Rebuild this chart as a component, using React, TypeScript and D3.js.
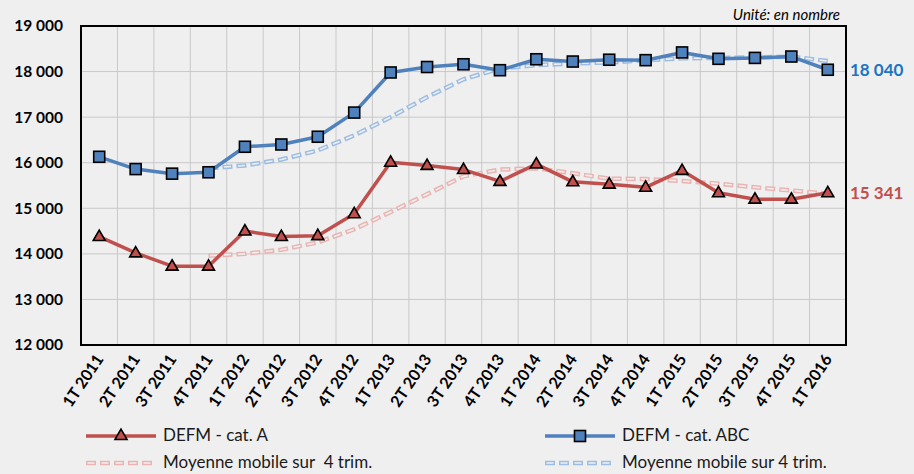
import React, { useRef, useEffect } from 'react';
import * as d3 from 'd3';

const quarters = [
  '1T 2011', '2T 2011', '3T 2011', '4T 2011',
  '1T 2012', '2T 2012', '3T 2012', '4T 2012',
  '1T 2013', '2T 2013', '3T 2013', '4T 2013',
  '1T 2014', '2T 2014', '3T 2014', '4T 2014',
  '1T 2015', '2T 2015', '3T 2015', '4T 2015',
  '1T 2016',
];

const catA = [
  14380, 14020, 13730, 13730, 14500, 14380, 14400, 14880, 16010, 15940, 15850,
  15590, 15970, 15580, 15530, 15460, 15830, 15340, 15200, 15200, 15341,
];
const catABC = [
  16130, 15860, 15760, 15790, 16350, 16400, 16570, 17100, 17980, 18100, 18160,
  18030, 18270, 18220, 18260, 18250, 18420, 18280, 18300, 18330, 18040,
];
// moving averages start at 4T 2011
const maA = [
  13960, 14000, 14090, 14250, 14540, 14920, 15310, 15700, 15850, 15880, 15770,
  15650, 15640, 15600, 15540, 15460, 15390, 15320,
];
const maABC = [
  15880, 15940, 16070, 16270, 16600, 17000, 17440, 17830, 18070, 18140, 18180,
  18200, 18250, 18290, 18300, 18310, 18330, 18230,
];
const yTicks = [12000, 13000, 14000, 15000, 16000, 17000, 18000, 19000];

const RED = '#c0504d';
const BLUE = '#4f81bd';
const RED_MA = '#eab4b2';
const BLUE_MA = '#9dbde3';
const BG = '#efefef';
const FONT = 'Lato, "Open Sans", sans-serif';

const Chart = () => {
  const ref = useRef<SVGSVGElement>(null);

  useEffect(() => {
    const svg = d3.select(ref.current);
    svg.selectAll('*').remove();
    const width = 914;
    const height = 474;
    const margin = { top: 26, right: 68, bottom: 129, left: 81 };

    const x = d3
      .scaleBand()
      .domain(quarters)
      .range([margin.left, width - margin.right]);
    const cx = (q: string) => (x(q) as number) + x.bandwidth() / 2;

    const y = d3
      .scaleLinear()
      .domain([12000, 19000])
      .range([height - margin.bottom, margin.top]);

    svg.append('rect').attr('width', width).attr('height', height).attr('fill', BG);

    // grid
    const grid = svg.append('g').attr('stroke', '#c9c9c9').attr('stroke-width', 1);
    grid
      .selectAll('line.h')
      .data(yTicks)
      .join('line')
      .attr('x1', margin.left)
      .attr('x2', width - margin.right)
      .attr('y1', (d) => y(d))
      .attr('y2', (d) => y(d));
    grid
      .selectAll('line.v')
      .data(quarters.slice(1))
      .join('line')
      .attr('class', 'v')
      .attr('x1', (d) => x(d) as number)
      .attr('x2', (d) => x(d) as number)
      .attr('y1', margin.top)
      .attr('y2', height - margin.bottom);

    // frame
    svg
      .append('rect')
      .attr('x', margin.left)
      .attr('y', margin.top)
      .attr('width', width - margin.right - margin.left)
      .attr('height', height - margin.bottom - margin.top)
      .attr('fill', 'none')
      .attr('stroke', '#000')
      .attr('stroke-width', 2);

    // y labels
    svg
      .append('g')
      .selectAll('text')
      .data(yTicks)
      .join('text')
      .attr('x', 63)
      .attr('y', (d) => y(d))
      .attr('dy', '0.35em')
      .attr('text-anchor', 'end')
      .attr('font-family', FONT)
      .attr('font-weight', 'bold')
      .attr('font-size', 15.5)
      .text((d) => d3.format(',')(d).replace(',', ' '));

    // x labels
    svg
      .append('g')
      .selectAll('text')
      .data(quarters)
      .join('text')
      .attr('transform', (d) => `translate(${cx(d) + 5},${height - margin.bottom + 14}) rotate(-56)`)
      .attr('text-anchor', 'end')
      .attr('font-family', FONT)
      .attr('font-weight', 'bold')
      .attr('font-size', 16)
      .text((d) => d);

    svg
      .append('text')
      .attr('x', 840)
      .attr('y', 20)
      .attr('text-anchor', 'end')
      .attr('font-family', FONT)
      .attr('font-style', 'italic')
      .attr('font-size', 15)
      .text('Unité: en nombre');

    // moving averages (hollow dashes)
    const maQuarters = quarters.slice(3);
    const maLine = d3
      .line<number>()
      .x((_, i) => cx(maQuarters[i]))
      .y((d) => y(d));
    const hollow = (g: any, data: number[], color: string) => {
      g.append('path')
        .attr('d', maLine(data))
        .attr('fill', 'none')
        .attr('stroke', color)
        .attr('stroke-width', 4.5)
        .attr('stroke-dasharray', '10 4');
      g.append('path')
        .attr('d', maLine(data))
        .attr('fill', 'none')
        .attr('stroke', BG)
        .attr('stroke-width', 1.6)
        .attr('stroke-dasharray', '0 1.5 7 5.5');
    };
    hollow(svg.append('g'), maA, RED_MA);
    hollow(svg.append('g'), maABC, BLUE_MA);

    const line = d3
      .line<number>()
      .x((_, i) => cx(quarters[i]))
      .y((d) => y(d));

    svg
      .append('path')
      .attr('d', line(catA))
      .attr('fill', 'none')
      .attr('stroke', RED)
      .attr('stroke-width', 3.5)
      .attr('stroke-linejoin', 'round');
    svg
      .append('path')
      .attr('d', line(catABC))
      .attr('fill', 'none')
      .attr('stroke', BLUE)
      .attr('stroke-width', 3.5)
      .attr('stroke-linejoin', 'round');

    const tri = d3.symbol().type(d3.symbolTriangle).size(62);
    svg
      .append('g')
      .selectAll('path')
      .data(catA)
      .join('path')
      .attr('d', tri)
      .attr('transform', (d, i) => `translate(${cx(quarters[i])},${y(d) + 0.5})`)
      .attr('fill', RED)
      .attr('stroke', '#000')
      .attr('stroke-width', 1.6);

    svg
      .append('g')
      .selectAll('rect')
      .data(catABC)
      .join('rect')
      .attr('x', (d, i) => cx(quarters[i]) - 5.5)
      .attr('y', (d) => y(d) - 5.5)
      .attr('width', 11)
      .attr('height', 11)
      .attr('fill', BLUE)
      .attr('stroke', '#000')
      .attr('stroke-width', 1.6);

    // end labels
    const last = quarters.length - 1;
    svg
      .append('text')
      .attr('x', 850)
      .attr('y', y(catABC[last]))
      .attr('dy', '0.35em')
      .attr('font-family', FONT)
      .attr('font-weight', 'bold')
      .attr('font-size', 17)
      .attr('fill', '#1a75c2')
      .text('18 040');
    svg
      .append('text')
      .attr('x', 850)
      .attr('y', y(catA[last]))
      .attr('dy', '0.35em')
      .attr('font-family', FONT)
      .attr('font-weight', 'bold')
      .attr('font-size', 17)
      .attr('fill', RED)
      .text('15 341');

    // legend
    const legend = svg.append('g').attr('font-family', FONT).attr('font-size', 17);
    const items = [
      { x: 86, y: 436, label: 'DEFM - cat. A', color: RED, marker: 'tri' },
      { x: 545, y: 436, label: 'DEFM - cat. ABC', color: BLUE, marker: 'sq' },
      { x: 86, y: 463, label: 'Moyenne mobile sur  4 trim.', color: RED_MA, marker: 'ma' },
      { x: 545, y: 463, label: 'Moyenne mobile sur 4 trim.', color: BLUE_MA, marker: 'ma' },
    ];
    items.forEach((it) => {
      const g = legend.append('g');
      if (it.marker === 'ma') {
        const p = `M${it.x},${it.y}H${it.x + 70}`;
        g.append('path').attr('d', p).attr('stroke', it.color).attr('stroke-width', 4.5).attr('stroke-dasharray', '10 4');
        g.append('path').attr('d', p).attr('stroke', BG).attr('stroke-width', 1.6).attr('stroke-dasharray', '0 1.5 7 5.5');
      } else {
        g.append('line')
          .attr('x1', it.x)
          .attr('x2', it.x + 70)
          .attr('y1', it.y)
          .attr('y2', it.y)
          .attr('stroke', it.color)
          .attr('stroke-width', 3.5);
        if (it.marker === 'tri') {
          g.append('path')
            .attr('d', tri)
            .attr('transform', `translate(${it.x + 35},${it.y})`)
            .attr('fill', it.color)
            .attr('stroke', '#000')
            .attr('stroke-width', 1.6);
        } else {
          g.append('rect')
            .attr('x', it.x + 35 - 5.5)
            .attr('y', it.y - 5.5)
            .attr('width', 11)
            .attr('height', 11)
            .attr('fill', it.color)
            .attr('stroke', '#000')
            .attr('stroke-width', 1.6);
        }
      }
      g.append('text')
        .attr('x', it.x + 77)
        .attr('y', it.y)
        .attr('dy', '0.32em')
        .attr('fill', '#1a1a1a')
        .attr('xml:space', 'preserve')
        .style('white-space', 'pre')
        .text(it.label);
    });
  }, []);

  return (
    <svg
      ref={ref}
      width={914}
      height={474}
      style={{ position: 'absolute', left: 0, top: 0, display: 'block' }}
    />
  );
};

export default function App() {
  return <Chart />;
}
